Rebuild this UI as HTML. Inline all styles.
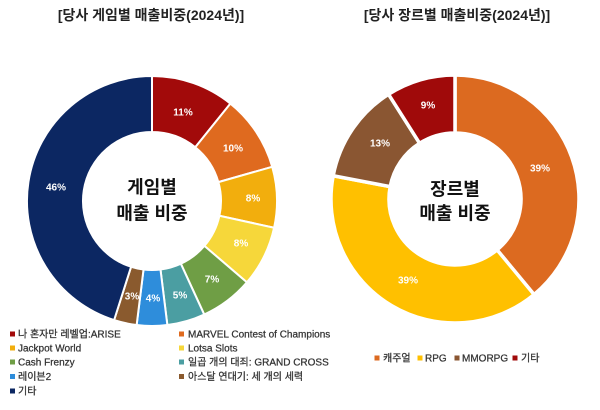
<!DOCTYPE html>
<html>
<head>
<meta charset="utf-8">
<style>
  html,body{margin:0;padding:0;background:#fff;}
  body{width:600px;height:410px;overflow:hidden;}
  svg{display:block;}
  .t{font-family:"Liberation Sans","Noto Sans CJK KR",sans-serif;}
</style>
</head>
<body>
<svg width="600" height="410" viewBox="0 0 600 410" xmlns="http://www.w3.org/2000/svg">
  <rect width="600" height="410" fill="#fff"/>

  <!-- Titles -->
  <text class="t" x="151" y="20" font-size="14" font-weight="bold" fill="#222" text-anchor="middle">[당사 게임별 매출비중(2024년)]</text>
  <text class="t" x="457" y="20" font-size="14" font-weight="bold" fill="#222" text-anchor="middle">[당사 장르별 매출비중(2024년)]</text>

  <!-- Left donut -->
  <g stroke="#fff" stroke-width="2" stroke-linejoin="miter">
    <path fill="#A20A0A" d="M152,76 A125,125 0 0 1 230.36,103.61 L195.26,147.24 A69,69 0 0 0 152,132 Z"/>
    <path fill="#DF6A1F" d="M230.36,103.61 A125,125 0 0 1 272.24,166.80 L218.37,182.12 A69,69 0 0 0 195.26,147.24 Z"/>
    <path fill="#F2AE0D" d="M272.24,166.80 A125,125 0 0 1 274.10,227.74 L219.40,215.76 A69,69 0 0 0 218.37,182.12 Z"/>
    <path fill="#F6D73A" d="M274.10,227.74 A125,125 0 0 1 246.93,282.33 L204.40,245.89 A69,69 0 0 0 219.40,215.76 Z"/>
    <path fill="#6F9E45" d="M246.93,282.33 A125,125 0 0 1 204.24,314.56 L180.84,263.69 A69,69 0 0 0 204.40,245.89 Z"/>
    <path fill="#4B9EA2" d="M204.24,314.56 A125,125 0 0 1 167.36,325.05 L160.48,269.48 A69,69 0 0 0 180.84,263.69 Z"/>
    <path fill="#2E8DDB" d="M167.36,325.05 A125,125 0 0 1 136.64,325.05 L143.52,269.48 A69,69 0 0 0 160.48,269.48 Z"/>
    <path fill="#8A5A2E" d="M136.64,325.05 A125,125 0 0 1 114.10,320.13 L131.08,266.76 A69,69 0 0 0 143.52,269.48 Z"/>
    <path fill="#0C2762" d="M114.10,320.13 A125,125 0 0 1 152,76 L152,132 A69,69 0 0 0 131.08,266.76 Z"/>
  </g>
  <g class="t" font-size="10" font-weight="bold" fill="#fff" text-anchor="middle">
    <text x="183" y="115.5">11%</text>
    <text x="233" y="151.5">10%</text>
    <text x="253" y="201.5">8%</text>
    <text x="241" y="246.5">8%</text>
    <text x="212" y="282.5">7%</text>
    <text x="180" y="298.5">5%</text>
    <text x="153" y="301.5">4%</text>
    <text x="132" y="299.5">3%</text>
    <text x="56" y="190.5">46%</text>
  </g>
  <g class="t" font-size="18" font-weight="bold" fill="#111" text-anchor="middle">
    <text x="152" y="193.5">게임별</text>
    <text x="152" y="219.5">매출 비중</text>
  </g>

  <!-- Right donut -->
  <g stroke="#fff" stroke-width="3.5" stroke-linejoin="miter">
    <path fill="#DC6A20" d="M455,75 A124,124 0 0 1 534.04,294.54 L497.07,249.85 A66,66 0 0 0 455,133 Z"/>
    <path fill="#FFC000" d="M534.04,294.54 A124,124 0 0 1 333.19,175.76 L390.17,186.63 A66,66 0 0 0 497.07,249.85 Z"/>
    <path fill="#8A5632" d="M333.19,175.76 A124,124 0 0 1 388.56,94.31 L419.64,143.28 A66,66 0 0 0 390.17,186.63 Z"/>
    <path fill="#A00A0A" d="M388.56,94.31 A124,124 0 0 1 455,75 L455,133 A66,66 0 0 0 419.64,143.28 Z"/>
  </g>
  <g class="t" font-size="10" font-weight="bold" fill="#fff" text-anchor="middle">
    <text x="540" y="171.5">39%</text>
    <text x="408" y="283.5">39%</text>
    <text x="380" y="146.5">13%</text>
    <text x="428" y="108.5">9%</text>
  </g>
  <g class="t" font-size="18" font-weight="bold" fill="#111" text-anchor="middle">
    <text x="455" y="195.5">장르별</text>
    <text x="455" y="219.5">매출 비중</text>
  </g>

  <!-- Left legend -->
  <g class="t" font-size="10" fill="#333" stroke="#333" stroke-width="0.25">
    <rect x="10" y="331.5" width="5" height="5" fill="#A20A0A" stroke="none"/>
    <text x="18" y="337.5">나 혼자만 레벨업:ARISE</text>
    <rect x="179" y="331.5" width="5" height="5" fill="#DF6A1F" stroke="none"/>
    <text x="188" y="337.5">MARVEL Contest of Champions</text>

    <rect x="10" y="345.5" width="5" height="5" fill="#F2AE0D" stroke="none"/>
    <text x="18" y="351.5">Jackpot World</text>
    <rect x="179" y="345.5" width="5" height="5" fill="#F6D73A" stroke="none"/>
    <text x="188" y="351.5">Lotsa Slots</text>

    <rect x="10" y="359.5" width="5" height="5" fill="#6F9E45" stroke="none"/>
    <text x="18" y="365.5">Cash Frenzy</text>
    <rect x="179" y="359.5" width="5" height="5" fill="#4B9EA2" stroke="none"/>
    <text x="188" y="365.5">일곱 개의 대죄: GRAND CROSS</text>

    <rect x="10" y="374" width="5" height="5" fill="#2E8DDB" stroke="none"/>
    <text x="18" y="380">레이븐2</text>
    <rect x="179" y="374" width="5" height="5" fill="#8A5A2E" stroke="none"/>
    <text x="188" y="380">아스달 연대기: 세 개의 세력</text>

    <rect x="10" y="388.5" width="5" height="5" fill="#0C2762" stroke="none"/>
    <text x="18" y="394.5">기타</text>
  </g>

  <!-- Right legend -->
  <g class="t" font-size="10" fill="#333" stroke="#333" stroke-width="0.25">
    <rect x="374.5" y="355.5" width="5" height="5" fill="#DC6A20" stroke="none"/>
    <text x="383" y="361.5">캐주얼</text>
    <rect x="417.5" y="355.5" width="5" height="5" fill="#FFC000" stroke="none"/>
    <text x="425" y="361.5">RPG</text>
    <rect x="454.5" y="355.5" width="5" height="5" fill="#8A5632" stroke="none"/>
    <text x="462" y="361.5">MMORPG</text>
    <rect x="512.5" y="355.5" width="5" height="5" fill="#A00A0A" stroke="none"/>
    <text x="521" y="361.5">기타</text>
  </g>
</svg>
</body>
</html>
